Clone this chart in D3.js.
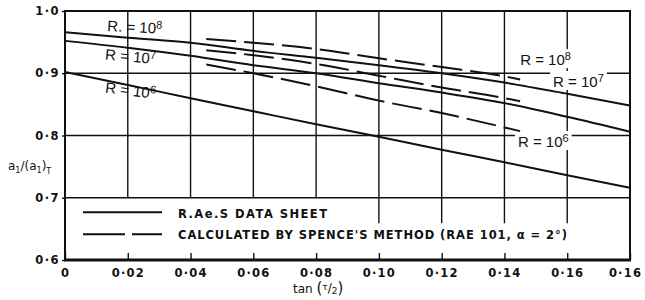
<!DOCTYPE html>
<html>
<head>
<meta charset="utf-8">
<script src="https://cdn.jsdelivr.net/npm/d3@7"></script>
<style>
body { margin: 0; background: #fff; }
text { font-family: "DejaVu Sans", sans-serif; fill: #111; }
</style>
</head>
<body>
<script>
//tan(tau/2) values where the data sheet curves were read
var tanValues = [0, 0.02, 0.04, 0.06, 0.08, 0.10, 0.12, 0.14, 0.16, 0.18];
//R.Ae.S data sheet curves (solid)
var sheetR8 = [0.966, 0.957, 0.949, 0.936, 0.925, 0.913, 0.900, 0.885, 0.867, 0.848];
var sheetR7 = [0.952, 0.941, 0.928, 0.913, 0.900, 0.884, 0.869, 0.852, 0.830, 0.806];
var sheetR6 = [0.902, 0.881, 0.860, 0.839, 0.818, 0.798, 0.777, 0.757, 0.736, 0.716];
//Spence's method curves (dashed)
var calcTan = [0.045, 0.06, 0.08, 0.10, 0.12, 0.14, 0.145];
var calcR8 = [0.955, 0.949, 0.939, 0.924, 0.910, 0.895, 0.890];
var calcR7 = [0.937, 0.929, 0.915, 0.896, 0.877, 0.860, 0.855];
var calcR6 = [0.914, 0.900, 0.879, 0.856, 0.836, 0.813, 0.807];
//ticks
var xTickValues = [0, 0.02, 0.04, 0.06, 0.08, 0.10, 0.12, 0.14, 0.16, 0.18];
var xTickLabels = ["0", "0·02", "0·04", "0·06", "0·08", "0·10", "0·12", "0·14", "0·16", "0·16"];
var yTickValues = [0.6, 0.7, 0.8, 0.9, 1.0];
var yTickLabels = ["0·6", "0·7", "0·8", "0·9", "1·0"];
var gridValues = [0.7, 0.8, 0.9];
//curve labels and legend
var curveExps = ["8", "7", "6"];
var legendLabels = ["R.Ae.S  DATA  SHEET", "CALCULATED BY SPENCE'S METHOD (RAE 101, α = 2°)"];

window.onload = function(){

    var w = 645, h = 300;
    var svg = d3.select("body")
        .append("svg")
        .attr("width", w)
        .attr("height", h)
        .style("background-color", "#fff");

    //scales for the plot frame
    var x = d3.scaleLinear()
        .domain([0, 0.18])
        .range([65, 630]);
    var y = d3.scaleLinear()
        .domain([0.6, 1.0])
        .range([260, 11]);

    //layers: grid first, then label boxes, then curves and text
    var gridLayer = svg.append("g");
    var boxLayer = svg.append("g");
    var lineLayer = svg.append("g");
    var textLayer = svg.append("g");

    //legend rows sit under the 0.7 line
    var row1 = y(0.7) + 14.5, row2 = y(0.7) + 36.5;
    var legendTextX = x(0) + 113;

    lineLayer.append("line")
        .attr("x1", x(0) + 18).attr("x2", x(0) + 97)
        .attr("y1", row1).attr("y2", row1)
        .style("stroke", "#111").style("stroke-width", 2);
    lineLayer.append("line")
        .attr("x1", x(0) + 18).attr("x2", x(0) + 97)
        .attr("y1", row2).attr("y2", row2)
        .style("stroke", "#111").style("stroke-width", 2)
        .style("stroke-dasharray", "42,7");

    var legendWidths = [149, 389];
    textLayer.selectAll(".legend")
        .data(legendLabels)
        .enter()
        .append("text")
        .attr("class", "legend")
        .attr("x", legendTextX)
        .attr("y", function(d, i){ return i == 0 ? row1 + 6 : row2 + 5; })
        .attr("textLength", function(d, i){ return legendWidths[i]; })
        .attr("lengthAdjust", "spacing")
        .style("font-size", "11.5px")
        .style("font-weight", "bold")
        .text(function(d){ return d; });

    var row1End = legendTextX + legendWidths[0];

    //vertical grid lines stop at the legend
    gridLayer.selectAll(".vgrid")
        .data(xTickValues.slice(1, -1))
        .enter()
        .append("line")
        .attr("class", "vgrid")
        .attr("x1", function(d){ return x(d); })
        .attr("x2", function(d){ return x(d); })
        .attr("y1", y(1.0))
        .attr("y2", function(d){
            return x(d) > row1End ? (row1 + row2) / 2 : y(0.7);
        })
        .style("stroke", "#111")
        .style("stroke-width", 1.4);

    //horizontal grid lines
    gridLayer.selectAll(".hgrid")
        .data(gridValues)
        .enter()
        .append("line")
        .attr("class", "hgrid")
        .attr("x1", x(0)).attr("x2", x(0.18))
        .attr("y1", function(d){ return y(d); })
        .attr("y2", function(d){ return y(d); })
        .style("stroke", "#111")
        .style("stroke-width", 1.4);

    //bottom axis with short inward ticks
    var xAxis = d3.axisBottom(x)
        .tickValues(xTickValues)
        .tickFormat(function(d, i){ return xTickLabels[i]; })
        .tickSizeInner(-7)
        .tickSizeOuter(0)
        .tickPadding(9);
    var gx = gridLayer.append("g")
        .attr("transform", "translate(0," + y(0.6) + ")")
        .call(xAxis);
    gx.select(".domain").remove();
    gx.selectAll("line").style("stroke", "#111").style("stroke-width", 1.4);
    gx.selectAll("text")
        .style("font-family", "DejaVu Sans")
        .style("font-size", "11.5px")
        .style("font-weight", "bold")
        .style("letter-spacing", "1.2px")
        .style("fill", "#111");
    //keep the last label inside the page
    gx.selectAll(".tick:last-of-type text").attr("dx", -5);

    //left axis
    var yAxis = d3.axisLeft(y)
        .tickValues(yTickValues)
        .tickFormat(function(d, i){ return yTickLabels[i]; })
        .tickSizeInner(3)
        .tickSizeOuter(0)
        .tickPadding(2);
    var gy = gridLayer.append("g")
        .attr("transform", "translate(" + x(0) + ",0)")
        .call(yAxis);
    gy.select(".domain").remove();
    gy.selectAll("line").style("stroke", "#111").style("stroke-width", 1.4);
    gy.selectAll("text")
        .style("font-family", "DejaVu Sans")
        .style("font-size", "11.5px")
        .style("font-weight", "bold")
        .style("letter-spacing", "1.5px")
        .style("fill", "#111");

    //frame
    lineLayer.append("rect")
        .attr("x", x(0)).attr("y", y(1.0))
        .attr("width", x(0.18) - x(0))
        .attr("height", y(0.6) - y(1.0))
        .style("fill", "none")
        .style("stroke", "#111")
        .style("stroke-width", 2);
    lineLayer.append("line")
        .attr("x1", x(0) - 1).attr("x2", x(0.18) + 1)
        .attr("y1", y(0.6)).attr("y2", y(0.6))
        .style("stroke", "#111")
        .style("stroke-width", 3);

    //curves
    var line = d3.line()
        .x(function(d){ return x(d[0]); })
        .y(function(d){ return y(d[1]); })
        .curve(d3.curveMonotoneX);

    var sheetSeries = [sheetR8, sheetR7, sheetR6];
    var calcSeries = [calcR8, calcR7, calcR6];

    lineLayer.selectAll(".sheet")
        .data(sheetSeries)
        .enter()
        .append("path")
        .attr("class", "sheet")
        .attr("d", function(s){
            return line(s.map(function(v, i){ return [tanValues[i], v]; }));
        })
        .style("fill", "none")
        .style("stroke", "#111")
        .style("stroke-width", 2);

    lineLayer.selectAll(".calc")
        .data(calcSeries)
        .enter()
        .append("path")
        .attr("class", "calc")
        .attr("d", function(s){
            return line(s.map(function(v, i){ return [calcTan[i], v]; }));
        })
        .style("fill", "none")
        .style("stroke", "#111")
        .style("stroke-width", 2)
        .style("stroke-dasharray", "30,8");

    //helper for "R = 10^n" labels
    function rLabel(g, exp, prefix){
        var t = g.append("text")
            .style("font-family", "Liberation Sans")
            .style("font-size", "15px");
        t.append("tspan").text(prefix + " = 10");
        t.append("tspan")
            .attr("dy", "-0.45em")
            .style("font-size", "11px")
            .text(exp);
        return t;
    }

    //labels at left, slightly tilted with the curves
    var leftPos = [[0.0134, 0.968, 3], [0.0127, 0.922, 5], [0.0127, 0.869, 7]];
    leftPos.forEach(function(p, i){
        var g = textLayer.append("g")
            .attr("transform", "translate(" + x(p[0]) + "," + y(p[1]) + ") rotate(" + p[2] + ")");
        rLabel(g, curveExps[i], i == 0 ? "R." : "R");
    });

    //labels at right, on white boxes that break the grid
    var rightPos = [[0.145, 0.913], [0.1555, 0.878], [0.1443, 0.7815]];
    rightPos.forEach(function(p, i){
        var g = textLayer.append("g")
            .attr("transform", "translate(" + x(p[0]) + "," + y(p[1]) + ")");
        var t = rLabel(g, curveExps[i], "R");
        var b = t.node().getBBox();
        boxLayer.append("rect")
            .attr("x", x(p[0]) + b.x - 3)
            .attr("y", y(p[1]) + b.y - 1)
            .attr("width", b.width + 6)
            .attr("height", b.height + 1)
            .style("fill", "#fff");
    });

    //y axis title
    var yt = textLayer.append("text")
        .attr("x", 8)
        .attr("y", 170)
        .style("font-size", "12px");
    yt.append("tspan").text("a");
    yt.append("tspan").attr("dy", 3).style("font-size", "8px").text("1");
    yt.append("tspan").attr("dy", -3).text("/(a");
    yt.append("tspan").attr("dy", 3).style("font-size", "8px").text("1");
    yt.append("tspan").attr("dy", -3).text(")");
    yt.append("tspan").attr("dy", 4).style("font-size", "8px").text("T");

    //x axis title
    var xt = textLayer.append("text")
        .attr("x", 293)
        .attr("y", 293)
        .style("font-size", "12px");
    xt.append("tspan").text("tan ");
    xt.append("tspan").style("font-size", "15px").text("(");
    xt.append("tspan").attr("dy", -3).style("font-size", "9px").text("τ");
    xt.append("tspan").attr("dy", 2).text("/");
    xt.append("tspan").attr("dy", 2).style("font-size", "9px").text("2");
    xt.append("tspan").attr("dy", -1).style("font-size", "15px").text(")");
};
</script>
</body>
</html>
